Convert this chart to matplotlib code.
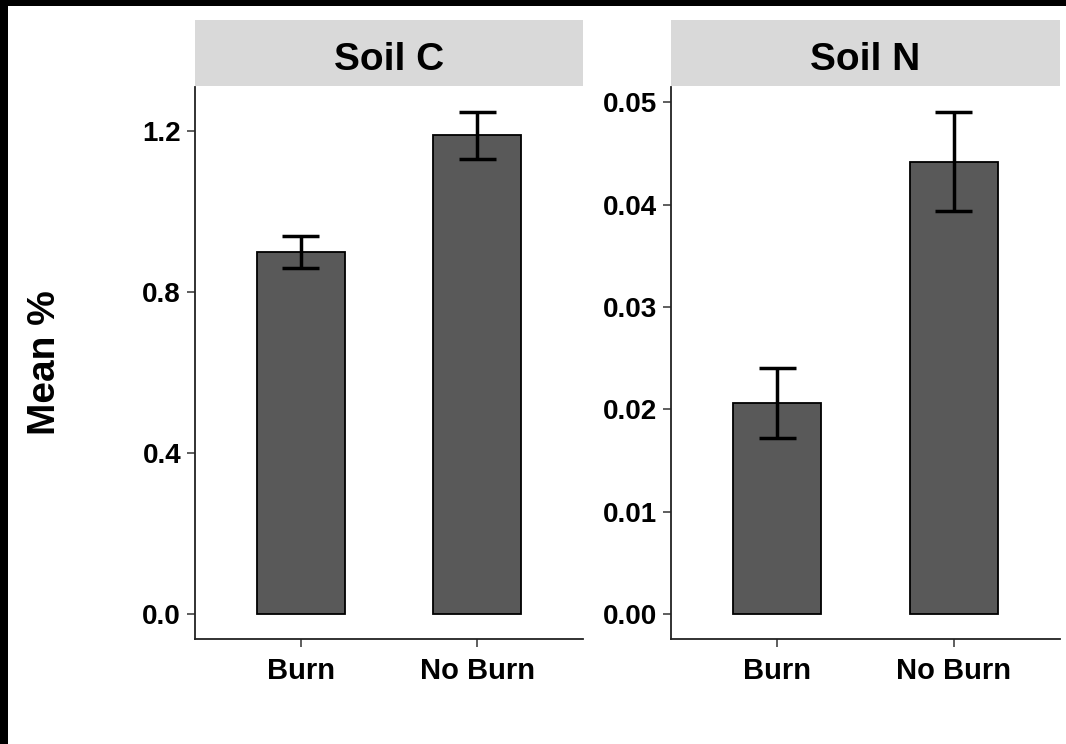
import numpy as np
import matplotlib
matplotlib.use("Agg")
import matplotlib.pyplot as plt
from matplotlib.patches import Rectangle

plt.rcParams['font.family'] = ['Liberation Sans', 'DejaVu Sans']
plt.rcParams['font.weight'] = 'bold'

# data
groups = ["Burn", "No Burn"]
panels = ["Soil C", "Soil N"]
soil_c_mean = [0.90, 1.19]
soil_c_se = [0.040, 0.058]
soil_n_mean = [0.0206, 0.0442]
soil_n_se = [0.00345, 0.00485]
soil_c_ticks = [0.0, 0.4, 0.8, 1.2]
soil_n_ticks = [0.00, 0.01, 0.02, 0.03, 0.04, 0.05]

W, H = 1066, 744
fig = plt.figure(figsize=(W / 100, H / 100), dpi=100)
fig.patch.set_facecolor("white")

# black frame remnants at top and left edges
fig.patches.append(Rectangle((0, 1 - 6 / H), 1, 6 / H, transform=fig.transFigure,
                             facecolor="black", edgecolor="none"))
fig.patches.append(Rectangle((0, 0), 8 / W, 1, transform=fig.transFigure,
                             facecolor="black", edgecolor="none"))

def px_axes(x0, x1, y0, y1):
    return fig.add_axes([x0 / W, 1 - y1 / H, (x1 - x0) / W, (y1 - y0) / H])

boxes = [(195, 583), (671, 1060)]
means = [soil_c_mean, soil_n_mean]
ses = [soil_c_se, soil_n_se]
ticks = [soil_c_ticks, soil_n_ticks]
fmts = ["{:.1f}", "{:.2f}"]

for i, (x0, x1) in enumerate(boxes):
    ax = px_axes(x0, x1, 87, 639)
    x = np.arange(1, len(groups) + 1)
    m = np.array(means[i])
    s = np.array(ses[i])
    ax.bar(x, m, width=0.5, color="#595959", edgecolor="black", linewidth=1.3, zorder=2)
    ax.vlines(x, m - s, m + s, color="black", linewidth=2.5, zorder=3)
    ax.hlines(m + s, x - 0.105, x + 0.105, color="black", linewidth=2.5, zorder=3)
    ax.hlines(m - s, x - 0.105, x + 0.105, color="black", linewidth=2.5, zorder=3)

    top = float(np.max(m + s))
    ax.set_ylim(-0.05 * top, top * 1.05)
    ax.set_xlim(0.4, len(groups) + 0.6)
    ax.set_yticks(ticks[i])
    ax.set_yticklabels([fmts[i].format(t) for t in ticks[i]], fontsize=20, fontweight="bold")
    ax.set_xticks(x)
    ax.set_xticklabels(groups, fontsize=21, fontweight="bold")
    for side in ["top", "right"]:
        ax.spines[side].set_visible(False)
    for side in ["left", "bottom"]:
        ax.spines[side].set_color("#222222")
        ax.spines[side].set_linewidth(1.3)
    ax.tick_params(axis="both", length=6, width=1.1, color="#333333", labelcolor="black")
    ax.tick_params(axis="y", pad=4)
    ax.tick_params(axis="x", pad=7)

    # facet strip
    sax = px_axes(x0, x1, 20, 86)
    sax.set_facecolor("#d9d9d9")
    sax.set_xticks([])
    sax.set_yticks([])
    for sp in sax.spines.values():
        sp.set_visible(False)
    sax.text(0.5, 0.40, panels[i], ha="center", va="center", fontsize=28,
             fontweight="bold", transform=sax.transAxes)

fig.text(45 / W, 1 - 363 / H, "Mean %", rotation=90, ha="center", va="center",
         fontsize=28, fontweight="bold")

fig.savefig("out.png", dpi=100)
